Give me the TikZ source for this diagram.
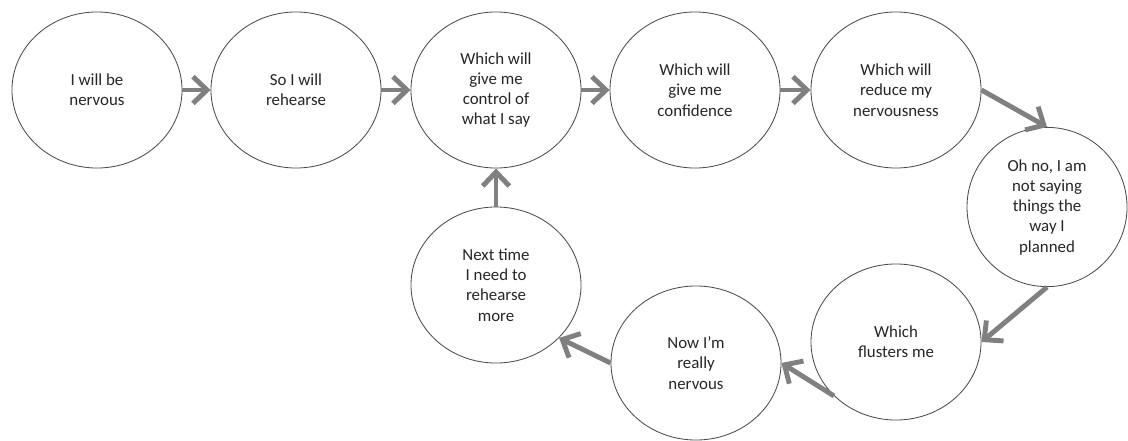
\documentclass[tikz,border=0pt]{standalone}
\usepackage{fontspec}
\setmainfont{Carlito}
\usetikzlibrary{shapes.geometric,arrows.meta}

\begin{document}
\begin{tikzpicture}[x=0.025cm,y=-0.025cm,
    bubble/.style={ellipse,draw=black!70,line width=0.6pt,fill=white,
        minimum width=4.25cm,minimum height=3.9cm,inner sep=0pt,
        align=center,text=black!85,font=\fontsize{12}{14.4}\selectfont},
    flow/.style={draw=black!50,line width=3.5pt,
        -{Straight Barb[length=10pt,width=19pt]}}]
    \useasboundingbox (0,0) rectangle (1128,440);
    % top row
    \node[bubble] (nervous) at (97,90) {I will be\\nervous};
    \node[bubble] (rehearse) at (296,90) {So I will\\rehearse};
    \node[bubble] (control) at (496,90) {Which will\\give me\\control of\\what I say};
    \node[bubble] (confidence) at (695,90) {Which will\\give me\\confidence};
    \node[bubble] (reduce) at (896,90) {Which will\\reduce my\\nervousness};
    % right side and bottom row
    \node[bubble,minimum width=4cm,minimum height=3.98cm] (ohno) at (1047,207) {Oh no, I am\\not saying\\things the\\way I\\planned};
    \node[bubble] (fluster) at (896,342) {Which\\flusters me};
    \node[bubble,minimum height=3.85cm] (really) at (696,363) {Now I’m\\really\\nervous};
    \node[bubble] (nexttime) at (496,285) {Next time\\I need to\\rehearse\\more};
    % arrows
    \draw[flow] (nervous) -- (rehearse);
    \draw[flow] (rehearse) -- (control);
    \draw[flow] (control) -- (confidence);
    \draw[flow] (confidence) -- (reduce);
    \draw[flow] (reduce.east) -- (ohno.north);
    \draw[flow] (ohno.south) -- (fluster.east);
    \draw[flow] (fluster.221) -- (really.east);
    \draw[flow] (really.west) -- (nexttime.-40);
    \draw[flow] (nexttime.north) -- (control.south);
\end{tikzpicture}
\end{document}
